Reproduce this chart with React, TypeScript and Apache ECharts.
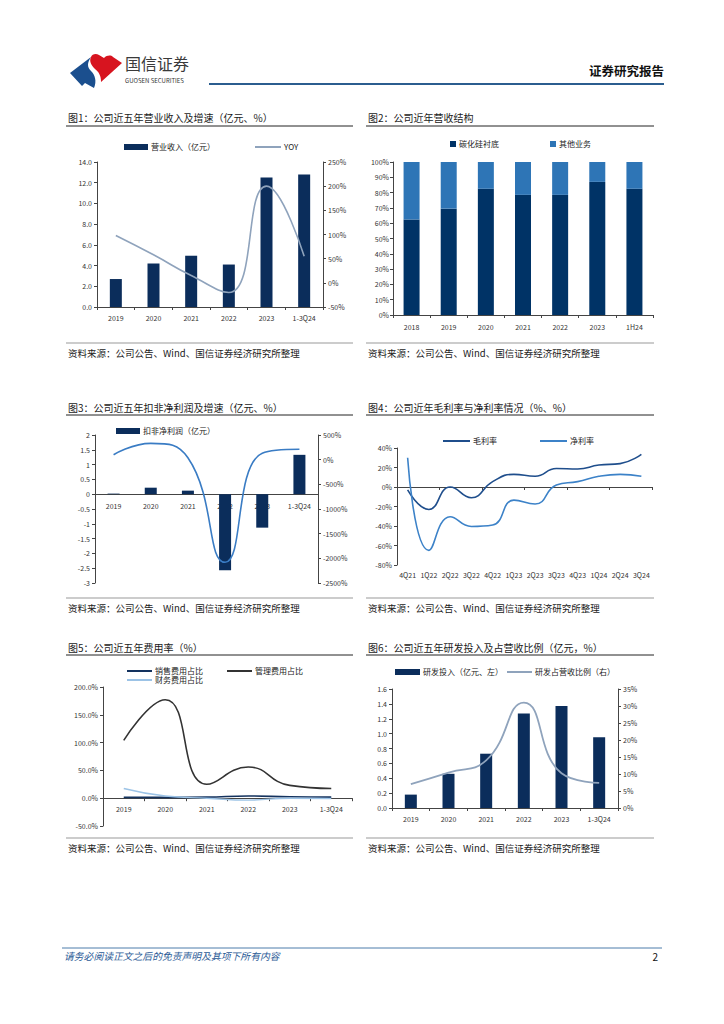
import React, { useEffect, useRef } from "react";
import * as echarts from "echarts";

const FONT = '"Noto Sans CJK SC", "Noto Sans", sans-serif';

// ---------- data ----------
const years6 = ["2019", "2020", "2021", "2022", "2023", "1-3Q24"];
const revenue = [2.7, 4.2, 4.95, 4.1, 12.5, 12.8];
const revenueYoy = [98, 58, 15, -20, 200, 55];

const years7 = ["2018", "2019", "2020", "2021", "2022", "2023", "1H24"];
const sicShare = [62.5, 69.5, 82.5, 78.5, 78.5, 87, 82.5];
const otherShare = [37.5, 30.5, 17.5, 21.5, 21.5, 13, 17.5];

const netProfitDed = [0.02, 0.22, 0.12, -2.57, -1.13, 1.33];
const netProfitYoy = [100, 330, 40, -2080, 130, 210];

const quarters = ["4Q21", "1Q22", "2Q22", "3Q22", "4Q22", "1Q23", "2Q23", "3Q23", "4Q23", "1Q24", "2Q24", "3Q24"];
const grossMargin = [-3, -23, 0, -11, 5.5, 13, 11, 19, 18.5, 22.5, 24, 33.5];
const netMargin = [30, -65, -30.5, -40.5, -39, -13.5, -17.5, 2, 5.5, 11, 13, 11];

const sellingRate = [1.5, 1.5, 2, 4, 2.5, 2];
const adminRate = [104, 177, 25, 56, 23, 17.5];
const financeRate = [17.5, 4, 0, -3.5, 0, -0.5];

const rdExpense = [0.18, 0.46, 0.73, 1.27, 1.37, 0.95];
const rdRatio = [7, 10.4, 14, 31, 10.2, 7.4];

// ---------- logo shapes ----------
const dBlue = "M2,21 L23,5 C19,11 19,15 23,19 C27,23 29,29 26,36 L17,31 L14,34 Z";
const dRed = "M23,5 C24,2 28,1 31,3 L36,6 C39,3 43,3 45,5 L54,11 L33,30 C33,24 31,20 27,17 C23,13 21,9 23,5 Z";
echarts.graphic.registerShape("gsBlue", echarts.graphic.extendPath(dBlue, {}));
echarts.graphic.registerShape("gsRed", echarts.graphic.extendPath(dRed, {}));

const NAVY = "#0b2d5b";
const AX = "#444";
const lbl = { color: "#333", fontSize: 7, fontFamily: FONT };

function txt(text: string, x: number, y: number, size: number, extra: any = {}) {
  return {
    type: "text",
    x,
    y,
    style: {
      text,
      fill: extra.fill || "#1a1a1a",
      font: `${extra.style || "normal"} ${extra.weight || "normal"} ${size}px ${FONT}`,
      align: extra.align || "left",
      verticalAlign: "middle",
      textAlign: extra.align || "left",
      textVerticalAlign: "middle",
    },
  };
}
function ln(x1: number, y1: number, x2: number, y2: number, stroke: string, w = 1) {
  return { type: "line", shape: { x1, y1, x2, y2 }, style: { stroke, lineWidth: w } };
}

function catX(gridIndex: number, data: string[], margin: number, extra: any = {}) {
  return {
    type: "category",
    gridIndex,
    data,
    position: "bottom",
    axisLine: { show: true, onZero: false, lineStyle: { color: AX, width: 1 } },
    axisTick: { show: true, length: 3, lineStyle: { color: AX } },
    axisLabel: { ...lbl, margin, interval: 0 },
    splitLine: { show: false },
    ...extra,
  };
}
function valY(gridIndex: number, min: number, max: number, interval: number, fmt: (v: number) => string, position = "left", margin = 5) {
  return {
    type: "value",
    gridIndex,
    min,
    max,
    interval,
    position,
    axisLine: { show: true, onZero: false, lineStyle: { color: AX, width: 1 } },
    axisTick: { show: true, length: 3, lineStyle: { color: AX } },
    axisLabel: { ...lbl, margin, formatter: fmt },
    splitLine: { show: false },
  };
}
function leg(name: string, left: number, top: number, w: number, h: number) {
  return {
    data: [name],
    left,
    top,
    padding: 0,
    icon: "rect",
    itemWidth: w,
    itemHeight: h,
    textStyle: { color: "#222", fontSize: 8, fontFamily: FONT, padding: [0, 0, 0, -2] },
    selectedMode: false,
  };
}

// grid geometry (px)
const G = [
  { left: 97, top: 162, width: 226, height: 145 },
  { left: 393, top: 162, width: 260, height: 153 },
  { left: 95, top: 435, width: 223, height: 148 },
  { left: 397, top: 448, width: 255, height: 117 },
  { left: 103, top: 687, width: 249, height: 139 },
  { left: 392, top: 689, width: 226, height: 119 },
];
// distance from grid bottom to the zero value of an axis
const zeroUp = (h: number, min: number, max: number) => (h * (0 - min)) / (max - min);

export default function App() {
  const ref = useRef<HTMLDivElement>(null);
  useEffect(() => {
    if (!ref.current) return;
    const chart = echarts.init(ref.current, undefined, { renderer: "svg" });
    const pct = (v: number) => `${v}%`;
    const z3 = zeroUp(G[2].height, -3, 2);
    const z4 = zeroUp(G[3].height, -80, 40);
    const z5 = zeroUp(G[4].height, -50, 200);
    const option: any = {
      animation: false,
      backgroundColor: "#fff",
      textStyle: { fontFamily: FONT },
      grid: G,
      xAxis: [
        catX(0, years6, 7),
        catX(1, years7, 8),
        catX(2, years6, 8, { offset: -z3, axisTick: { show: false } }),
        catX(3, quarters, 6.5, { axisLine: { show: false, onZero: false }, axisTick: { show: false } }),
        catX(3, quarters, 6.5, { offset: -z4, axisLabel: { show: false } }),
        catX(4, years6, 7.5, { offset: -z5 }),
        catX(5, years6, 7.5),
      ],
      yAxis: [
        valY(0, 0, 14, 2, (v) => v.toFixed(1)),
        valY(0, -50, 250, 50, pct, "right", 5),
        valY(1, 0, 100, 10, pct, "left", 4),
        valY(2, -3, 2, 0.5, (v) => `${v}`),
        valY(2, -2500, 500, 500, pct, "right", 5),
        valY(3, -80, 40, 20, pct, "left", 5),
        valY(4, -50, 200, 50, (v) => `${v.toFixed(1)}%`, "left", 5),
        valY(5, 0, 1.6, 0.2, (v) => v.toFixed(1)),
        valY(5, 0, 35, 5, pct, "right", 5),
      ],
      legend: [
        leg("营业收入（亿元）", 124, 143, 24, 6),
        leg("YOY", 255, 143, 26, 2),
        leg("碳化硅衬底", 450, 140, 6, 6),
        leg("其他业务", 550, 140, 6, 6),
        leg("扣非净利润（亿元）", 116, 427, 24, 6),
        leg("毛利率", 443, 437, 27, 2),
        leg("净利率", 540, 437, 27, 2),
        leg("销售费用占比", 127, 667, 25, 2),
        leg("管理费用占比", 227, 667, 25, 2),
        leg("财务费用占比", 127, 676, 25, 2),
        leg("研发投入（亿元、左）", 395, 668, 25, 6),
        leg("研发占营收比例（右）", 507, 668, 25, 2),
      ],
      series: [
        { name: "营业收入（亿元）", type: "bar", xAxisIndex: 0, yAxisIndex: 0, data: revenue, barWidth: 12, itemStyle: { color: NAVY } },
        { name: "YOY", type: "line", xAxisIndex: 0, yAxisIndex: 1, data: revenueYoy, smooth: true, symbol: "none", lineStyle: { color: "#8fa3bc", width: 1.6 }, itemStyle: { color: "#8fa3bc" } },
        { name: "碳化硅衬底", type: "bar", stack: "s", xAxisIndex: 1, yAxisIndex: 2, data: sicShare, barWidth: 16, itemStyle: { color: "#003366" } },
        { name: "其他业务", type: "bar", stack: "s", xAxisIndex: 1, yAxisIndex: 2, data: otherShare, barWidth: 16, itemStyle: { color: "#2e75b6" } },
        { name: "扣非净利润（亿元）", type: "bar", xAxisIndex: 2, yAxisIndex: 3, data: netProfitDed, barWidth: 12, itemStyle: { color: NAVY } },
        { name: "扣非净利润增速", type: "line", xAxisIndex: 2, yAxisIndex: 4, data: netProfitYoy, smooth: true, symbol: "none", lineStyle: { color: "#3a7cc4", width: 1.6 }, itemStyle: { color: "#3a7cc4" } },
        { name: "毛利率", type: "line", xAxisIndex: 3, yAxisIndex: 5, data: grossMargin, smooth: true, symbol: "none", lineStyle: { color: "#1f4e8c", width: 1.6 }, itemStyle: { color: "#1f4e8c" } },
        { name: "净利率", type: "line", xAxisIndex: 3, yAxisIndex: 5, data: netMargin, smooth: true, symbol: "none", lineStyle: { color: "#3c82c8", width: 1.6 }, itemStyle: { color: "#3c82c8" } },
        { name: "销售费用占比", type: "line", xAxisIndex: 5, yAxisIndex: 6, data: sellingRate, smooth: true, symbol: "none", lineStyle: { color: "#13325e", width: 1.6 }, itemStyle: { color: "#13325e" } },
        { name: "管理费用占比", type: "line", xAxisIndex: 5, yAxisIndex: 6, data: adminRate, smooth: true, symbol: "none", lineStyle: { color: "#333333", width: 1.6 }, itemStyle: { color: "#333333" } },
        { name: "财务费用占比", type: "line", xAxisIndex: 5, yAxisIndex: 6, data: financeRate, smooth: true, symbol: "none", lineStyle: { color: "#9cc3e6", width: 1.4 }, itemStyle: { color: "#9cc3e6" } },
        { name: "研发投入（亿元、左）", type: "bar", xAxisIndex: 6, yAxisIndex: 7, data: rdExpense, barWidth: 12, itemStyle: { color: NAVY } },
        { name: "研发占营收比例（右）", type: "line", xAxisIndex: 6, yAxisIndex: 8, data: rdRatio, smooth: true, symbol: "none", lineStyle: { color: "#8fa3bc", width: 1.8 }, itemStyle: { color: "#8fa3bc" } },
      ],
      graphic: [
        { type: "gsBlue", x: 68, y: 52, scaleX: 1, scaleY: 1, style: { fill: "#1b4f8e" } },
        { type: "gsRed", x: 68, y: 52, scaleX: 1, scaleY: 1, style: { fill: "#d7141f" } },
        txt("国信证券", 125, 63, 16, { fill: "#3a3a3a" }),
        txt("GUOSEN SECURITIES", 125, 80.5, 6, { fill: "#333" }),
        txt("证券研究报告", 664, 70, 12.5, { weight: "bold", align: "right", fill: "#111" }),
        ln(209, 84, 664, 84, "#2b5d8f", 2),

        txt("图1：公司近五年营业收入及增速（亿元、%）", 68, 117, 10),
        ln(66, 126, 353, 126, "#222", 1),
        txt("图2：公司近年营收结构", 368, 117, 10),
        ln(366, 126, 654, 126, "#222", 1),
        ln(66, 343, 353, 343, "#999", 1),
        ln(366, 343, 654, 343, "#999", 1),
        txt("资料来源：公司公告、Wind、国信证券经济研究所整理", 68, 353, 9.5),
        txt("资料来源：公司公告、Wind、国信证券经济研究所整理", 368, 353, 9.5),

        txt("图3：公司近五年扣非净利润及增速（亿元、%）", 68, 407, 10),
        ln(66, 415, 353, 415, "#222", 1),
        txt("图4：公司近年毛利率与净利率情况（%、%）", 368, 407, 10),
        ln(366, 415, 654, 415, "#222", 1),
        ln(66, 598, 353, 598, "#999", 1),
        ln(366, 598, 654, 598, "#999", 1),
        txt("资料来源：公司公告、Wind、国信证券经济研究所整理", 68, 608, 9.5),
        txt("资料来源：公司公告、Wind、国信证券经济研究所整理", 368, 608, 9.5),

        txt("图5：公司近五年费用率（%）", 68, 647, 10),
        ln(66, 655, 353, 655, "#222", 1),
        txt("图6：公司近五年研发投入及占营收比例（亿元，%）", 368, 647, 10),
        ln(366, 655, 654, 655, "#222", 1),
        ln(66, 838, 353, 838, "#999", 1),
        ln(366, 838, 654, 838, "#999", 1),
        txt("资料来源：公司公告、Wind、国信证券经济研究所整理", 68, 848, 9.5),
        txt("资料来源：公司公告、Wind、国信证券经济研究所整理", 368, 848, 9.5),

        ln(62, 948, 662, 948, "#4c7cab", 1),
        txt("请务必阅读正文之后的免责声明及其项下所有内容", 64, 956, 9.8, { style: "italic", fill: "#2a5a96" }),
        txt("2", 658, 956, 10, { align: "right", fill: "#111" }),
      ],
    };
    chart.setOption(option);
    return () => chart.dispose();
  }, []);
  return (
    <div
      ref={ref}
      style={{ position: "absolute", left: 0, top: 0, width: 724, height: 1024, background: "#fff" }}
    />
  );
}
